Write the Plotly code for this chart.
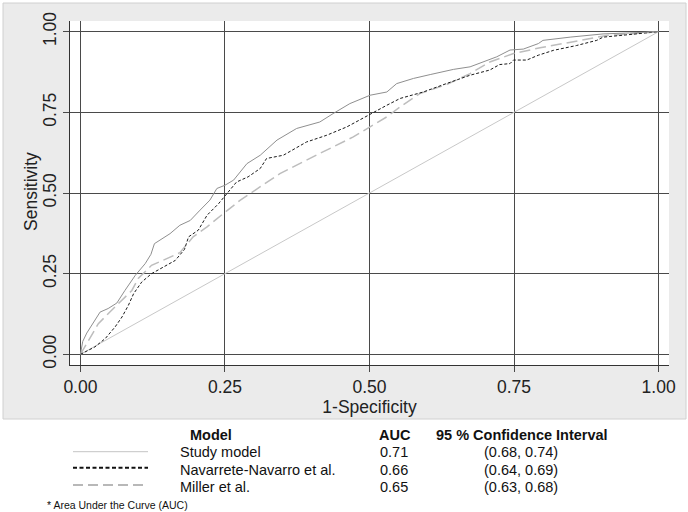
import plotly.graph_objects as go

# ---------------- data ----------------
study_x = [0, 0.004, 0.011, 0.02, 0.034, 0.048, 0.063, 0.077, 0.095, 0.112, 0.122, 0.128,
           0.155, 0.172, 0.19, 0.207, 0.224, 0.236, 0.25, 0.265, 0.288, 0.311, 0.34, 0.374,
           0.414, 0.437, 0.466, 0.501, 0.53, 0.547, 0.576, 0.605, 0.645, 0.674, 0.703, 0.72,
           0.743, 0.766, 0.792, 0.80, 0.847, 0.904, 0.95, 1.0]
study_y = [0, 0.04, 0.066, 0.09, 0.131, 0.142, 0.159, 0.198, 0.245, 0.281, 0.31, 0.343,
           0.374, 0.40, 0.415, 0.447, 0.478, 0.514, 0.524, 0.54, 0.591, 0.617, 0.664, 0.70,
           0.72, 0.746, 0.777, 0.803, 0.813, 0.839, 0.855, 0.867, 0.883, 0.891, 0.912, 0.922,
           0.943, 0.946, 0.963, 0.973, 0.983, 0.993, 0.996, 1.0]

nav_x = [0, 0.008, 0.025, 0.043, 0.06, 0.072, 0.083, 0.092, 0.106, 0.123, 0.146, 0.164,
         0.18, 0.187, 0.204, 0.219, 0.239, 0.253, 0.27, 0.29, 0.311, 0.322, 0.351, 0.391,
         0.426, 0.461, 0.498, 0.512, 0.53, 0.553, 0.593, 0.633, 0.674, 0.708, 0.725, 0.743,
         0.749, 0.772, 0.792, 0.818, 0.858, 0.893, 0.904, 0.933, 0.962, 1.0]
nav_y = [0, 0.007, 0.023, 0.049, 0.085, 0.116, 0.152, 0.188, 0.224, 0.25, 0.272, 0.291,
         0.325, 0.364, 0.385, 0.431, 0.467, 0.498, 0.534, 0.55, 0.576, 0.607, 0.617, 0.658,
         0.679, 0.705, 0.741, 0.757, 0.772, 0.793, 0.813, 0.839, 0.865, 0.881, 0.898, 0.901,
         0.912, 0.912, 0.927, 0.942, 0.957, 0.973, 0.983, 0.988, 0.993, 1.0]

miller_x = [0, 0.014, 0.031, 0.048, 0.072, 0.089, 0.1, 0.123, 0.141, 0.172, 0.195, 0.219,
            0.247, 0.276, 0.305, 0.345, 0.391, 0.437, 0.472, 0.501, 0.53, 0.553, 0.587,
            0.633, 0.674, 0.708, 0.749, 0.795, 0.83, 0.876, 0.91, 0.95, 1.0]
miller_y = [0, 0.043, 0.095, 0.126, 0.167, 0.198, 0.235, 0.276, 0.29, 0.315, 0.364, 0.395,
            0.436, 0.477, 0.512, 0.56, 0.602, 0.643, 0.674, 0.705, 0.736, 0.767, 0.808,
            0.836, 0.87, 0.906, 0.932, 0.95, 0.962, 0.976, 0.988, 0.993, 1.0]

ref_x = [0, 1]
ref_y = [0, 1]

tick_vals = [0, 0.25, 0.5, 0.75, 1.0]
tick_text = ["0.00", "0.25", "0.50", "0.75", "1.00"]

model_names = ["Study model", "Navarrete-Navarro et al.", "Miller et al."]
auc_values = ["0.71", "0.66", "0.65"]
ci_values = ["(0.68, 0.74)", "(0.64, 0.69)", "(0.63, 0.68)"]

# ---------------- styles ----------------
W, H = 688, 512
ML, MR, MT, MB = 70, 19, 21, 147
PW, PH = W - ML - MR, H - MT - MB
FONT = "Liberation Sans, Arial, sans-serif"

study_style = dict(color="#8f8f8f", width=1)
nav_style = dict(color="#1a1a1a", width=1, dash="3px,2px")
miller_style = dict(color="#bdbdbd", width=1.5, dash="11px,5px")
legend_styles = [dict(color="#c4c4c4", width=1),
                 dict(color="#111111", width=2, dash="4px,2.5px"),
                 dict(color="#b8b8b8", width=2, dash="10px,5px")]


def px(x):
    return (x - ML) / PW


def py(y):
    return (MT + PH - y) / PH


fig = go.Figure()
fig.add_trace(go.Scatter(x=ref_x, y=ref_y, mode="lines",
                         line=dict(color="#c8c8c8", width=1), showlegend=False, hoverinfo="skip"))
fig.add_trace(go.Scatter(x=miller_x, y=miller_y, mode="lines", line=miller_style,
                         name=model_names[2], showlegend=False))
fig.add_trace(go.Scatter(x=nav_x, y=nav_y, mode="lines", line=nav_style,
                         name=model_names[1], showlegend=False))
fig.add_trace(go.Scatter(x=study_x, y=study_y, mode="lines", line=study_style,
                         name=model_names[0], showlegend=False))

shapes = [
    dict(type="rect", xref="paper", yref="paper", x0=px(3), x1=px(686), y0=py(419), y1=py(3),
         fillcolor="#ebebeb", line=dict(color="#d0d0d0", width=1), layer="below"),
    dict(type="rect", xref="paper", yref="paper", x0=0, x1=1, y0=0, y1=1,
         fillcolor="white", line=dict(width=0), layer="below"),
]
row_y = [452, 469.5, 487]
line_y = [451.7, 467.8, 485]
for ly, st in zip(line_y, legend_styles):
    shapes.append(dict(type="line", xref="paper", yref="paper", x0=px(73), x1=px(148),
                       y0=py(ly), y1=py(ly), line=st))

ann = []
fs = 14.5


def add_text(text, x, y, anchor, size=fs, angle=0, color="#111111"):
    ann.append(dict(text=text, x=px(x), y=py(y), xref="paper", yref="paper",
                    xanchor=anchor, yanchor="middle", showarrow=False, textangle=angle,
                    font=dict(family=FONT, size=size, color=color)))


add_text("Sensitivity", 31, 192, "center", size=17.5, angle=-90, color="#222222")
add_text("<b>Model</b>", 188, 435, "left")
add_text("<b>AUC</b>", 395, 435, "center")
add_text("<b>95 % Confidence Interval</b>", 522, 435, "center")
for i in range(3):
    add_text(model_names[i], 178, row_y[i], "left")
    add_text(auc_values[i], 394, row_y[i], "center")
    add_text(ci_values[i], 521, row_y[i], "center")
add_text("* Area Under the Curve (AUC)", 45, 505, "left", size=10.5)

axis_common = dict(
    tickvals=tick_vals, ticktext=tick_text, showgrid=True, gridcolor="#4a4a4a", gridwidth=1,
    zeroline=False, showline=True, linecolor="#333333", linewidth=1, mirror=False,
    ticks="outside", ticklen=6, tickcolor="#4a4a4a", tickwidth=1, automargin=False,
    tickfont=dict(family=FONT, size=17.5, color="#222222"),
)

fig.update_layout(
    width=W, height=H, margin=dict(l=ML, r=MR, t=MT, b=MB, pad=0, autoexpand=False),
    paper_bgcolor="white", plot_bgcolor="white",
    font=dict(family=FONT, color="#222222"),
    xaxis=dict(range=[-0.018, 1.018], title=dict(text="1-Specificity", standoff=0,
               font=dict(family=FONT, size=17.5, color="#222222")), **axis_common),
    yaxis=dict(range=[-0.033, 1.033], tickangle=-90, **axis_common),
    shapes=shapes, annotations=ann, showlegend=False,
)

fig.write_html("out.html", config={"displayModeBar": False},
               post_script="document.body.style.margin='0px';")
